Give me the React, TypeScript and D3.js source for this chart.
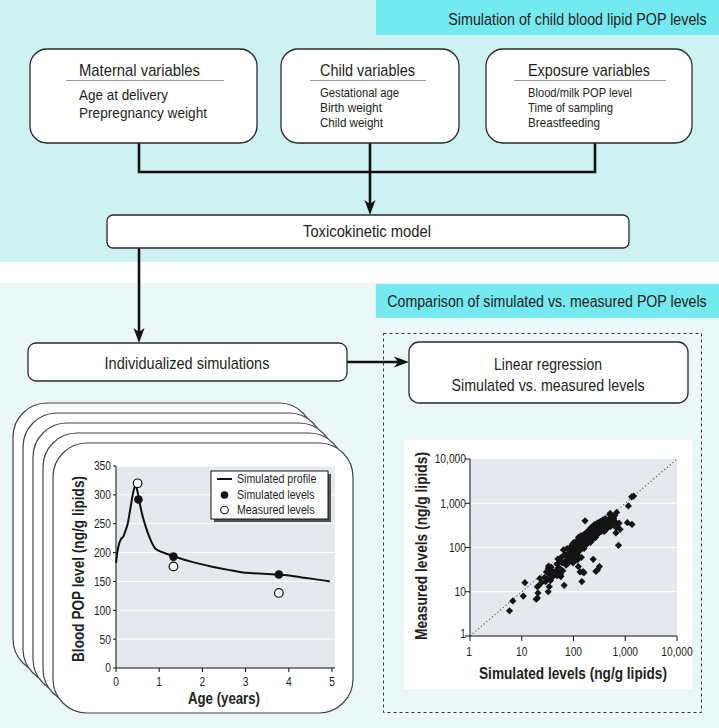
import React, { useEffect } from "react";
import * as d3 from "d3";

const W = 719;
const H = 728;
const FONT = "'Liberation Sans', Arial, sans-serif";
const SX = 0.82;

// ---------- flow-chart text ----------
const headerTop = "Simulation of child blood lipid POP levels";
const headerBottom = "Comparison of simulated vs. measured POP levels";
const boxTitles = ["Maternal variables", "Child variables", "Exposure variables"];
const maternalItems = ["Age at delivery", "Prepregnancy weight"];
const childItems = ["Gestational age", "Birth weight", "Child weight"];
const exposureItems = ["Blood/milk POP level", "Time of sampling", "Breastfeeding"];

// ---------- line chart data ----------
const profileAge = [0, 0.03, 0.07, 0.12, 0.17, 0.22, 0.27, 0.33, 0.4, 0.45, 0.5, 0.55, 0.62, 0.7, 0.8, 0.92, 1.1, 1.4, 1.8, 2.2, 2.6, 3.0, 3.5, 3.9, 4.3, 4.6, 4.95];
const profileLevel = [182, 200, 215, 224, 228, 238, 250, 275, 305, 316, 305, 285, 262, 242, 222, 206, 200, 192, 183, 176, 170, 165, 163, 161, 157, 154, 150];
const simulatedAge = [0.52, 1.33, 3.77];
const simulatedLevel = [292, 193, 162];
const measuredAge = [0.5, 1.33, 3.77];
const measuredLevel = [320, 176, 130];
const lineXTicks = [0, 1, 2, 3, 4, 5];
const lineYTicks = [0, 50, 100, 150, 200, 250, 300, 350];
const legendLabels = ["Simulated profile", "Simulated levels", "Measured levels"];

// ---------- scatter data (simulated, measured) ----------
const scatterSim = [
  5.8, 6.7, 10.7, 11.5, 19, 20, 20.6, 20, 22.4, 24, 21, 27.5, 32.5, 34, 36, 32.5, 37, 35, 30, 33, 38, 40, 31, 29,
  66, 55, 54, 58, 60, 62, 64, 68, 70, 72, 50, 52, 56, 46, 48, 75, 78, 80, 82,
  145, 150, 118, 125, 130, 110, 100, 105, 95, 98, 90, 92, 88, 102, 108, 112, 115, 120, 125, 128, 132, 135, 138, 140, 142, 145, 150, 155, 158, 160, 162, 165, 168, 170, 172, 175, 178, 180, 185, 188, 190, 195, 198, 200, 205, 210, 215, 218, 220, 225, 230, 235, 240, 245, 250, 255, 260, 265, 270, 278, 285, 290, 300, 310, 320, 330, 340, 350, 360, 370, 380, 390, 400, 410, 420, 430, 440, 450, 460, 475, 490, 500, 510, 520, 540, 560, 580, 600, 620, 640, 660, 680, 700, 740, 760, 795, 670,
  167, 240, 316, 290, 270, 155, 1100, 1350, 1150, 1330, 1450,
  85, 93, 96, 104, 106, 114, 117, 122, 126, 134, 136, 143, 148, 152, 157, 163, 170, 176, 183, 187, 192, 202, 208, 212, 222, 228, 238, 248, 258, 268, 275, 295, 305, 325, 345, 365, 385, 395, 415, 435,
  104, 124, 134, 159, 57, 53, 48, 52, 50, 46, 80
];
const scatterMeas = [
  3.7, 6.2, 8, 16, 6.8, 7.2, 9.4, 13, 20, 16, 13.5, 21, 10, 13, 18, 34, 36, 25, 28, 38, 30, 22, 20, 17,
  14, 26, 52, 60, 45, 30, 88, 70, 50, 40, 55, 35, 24, 30, 42, 95, 60, 45, 75,
  17, 28, 52, 80, 60, 70, 100, 85, 60, 45, 80, 110, 65, 130, 120, 95, 140, 110, 170, 130, 90, 150, 115, 185, 60, 105, 160, 125, 140, 95, 200, 150, 180, 120, 210, 160, 135, 190, 170, 230, 145, 200, 175, 250, 160, 215, 190, 280, 240, 170, 210, 300, 260, 190, 230, 330, 280, 210, 250, 300, 240, 360, 280, 320, 230, 390, 300, 260, 340, 420, 280, 350, 310, 450, 260, 380, 300, 330, 280, 420, 360, 550, 590, 300, 500, 420, 350, 450, 520, 380, 214, 620, 300, 112, 355, 257, 280,
  400, 54, 37, 31, 29, 28, 363, 333, 870, 1400, 1450,
  90, 75, 120, 65, 110, 80, 100, 95, 115, 105, 125, 135, 95, 118, 170, 130, 145, 115, 150, 125, 165, 140, 180, 130, 200, 150, 180, 160, 200, 170, 220, 200, 260, 270, 230, 290, 240, 230, 330, 290,
  52, 37, 28, 27, 22, 26, 23, 25, 24, 27, 52
];
const logTicks = [1, 10, 100, 1000, 10000];
const scatterXLabel = "Simulated levels (ng/g lipids)";
const scatterYLabel = "Measured levels (ng/g lipids)";

const TEXT = "#231f20";
const BOX_STROKE = "#2a2a2a";

// Text helper: either fitted to a measured width, or horizontally condensed.
function T({ x, y, size, anchor = "start", weight = "normal", w, sx = SX, rot = 0, children }: any) {
  if (w) {
    return (
      <text
        transform={`translate(${x},${y}) rotate(${rot})`}
        textAnchor={anchor}
        dominantBaseline="central"
        fontSize={size}
        fontWeight={weight}
        fill={TEXT}
        textLength={w}
        lengthAdjust="spacingAndGlyphs"
      >
        {children}
      </text>
    );
  }
  return (
    <text
      transform={`translate(${x},${y}) rotate(${rot}) scale(${sx},1)`}
      textAnchor={anchor}
      dominantBaseline="central"
      fontSize={size}
      fontWeight={weight}
      fill={TEXT}
    >
      {children}
    </text>
  );
}

function DownArrow({ x, y }: { x: number; y: number }) {
  return <path d={`M${x},${y} L${x - 5.5},${y - 15} L${x},${y - 11} L${x + 5.5},${y - 15} Z`} fill="#111" />;
}
function RightArrow({ x, y }: { x: number; y: number }) {
  return <path d={`M${x},${y} L${x - 15},${y - 5.5} L${x - 11},${y} L${x - 15},${y + 5.5} Z`} fill="#111" />;
}

function VarBox({ x, w, title, titleW, items, itemW, itemSize, divX1, divX2, textX }: any) {
  const y = 49, h = 94;
  return (
    <g>
      <rect x={x} y={y} width={w} height={h} rx={17} ry={17} fill="#fff" stroke={BOX_STROKE} strokeWidth={1.3} />
      <T x={textX} y={70} size={17} w={titleW}>{title}</T>
      <line x1={divX1} x2={divX2} y1={80.5} y2={80.5} stroke="#9a9a9a" strokeWidth={1} />
      {items.map((t: string, i: number) => (
        <T key={t} x={textX} y={itemSize > 14 ? 94.5 + i * 17.5 : 92 + i * 15} size={itemSize} w={itemW[i]}>{t}</T>
      ))}
    </g>
  );
}

function LineChart() {
  const x = d3.scaleLinear().domain([0, 5]).range([116, 332]);
  const y = d3.scaleLinear().domain([0, 350]).range([668, 466]);
  const line = d3.line<number>().x((d, i) => x(profileAge[i])).y((d) => y(d)).curve(d3.curveMonotoneX);
  const cards = [4, 3, 2, 1, 0];
  return (
    <g>
      {cards.map((k) => (
        <rect key={k} x={53 - k * 10} y={443 - k * 10} width={300} height={270} rx={34} ry={34} fill="#fff" stroke="#444" strokeWidth={1.2} />
      ))}
      <rect x={116} y={466} width={219} height={202} fill="#e5e9ee" />
      {lineYTicks.slice(1).map((t) => (
        <line key={t} x1={116} x2={335} y1={y(t)} y2={y(t)} stroke="#fff" strokeWidth={1} />
      ))}
      <line x1={116} x2={116} y1={466} y2={668} stroke="#111" strokeWidth={1} />
      <line x1={116} x2={335} y1={668} y2={668} stroke="#111" strokeWidth={1} />
      {lineYTicks.map((t) => (
        <g key={t}>
          <line x1={113} x2={116} y1={y(t)} y2={y(t)} stroke="#111" />
          <T x={111} y={y(t)} size={12.5} anchor="end">{t}</T>
        </g>
      ))}
      {lineXTicks.map((t) => (
        <g key={t}>
          <line x1={x(t)} x2={x(t)} y1={668} y2={672} stroke="#111" />
          <T x={x(t)} y={682} size={12.5} anchor="middle">{t}</T>
        </g>
      ))}
      <path d={line(profileLevel) || ""} fill="none" stroke="#111" strokeWidth={2} />
      {simulatedAge.map((a, i) => (
        <circle key={"s" + i} cx={x(a)} cy={y(simulatedLevel[i])} r={4.3} fill="#111" />
      ))}
      {measuredAge.map((a, i) => (
        <circle key={"m" + i} cx={x(a)} cy={y(measuredLevel[i])} r={4.3} fill="#fff" stroke="#111" strokeWidth={1.2} />
      ))}
      <T x={224} y={698} size={16} weight="bold" anchor="middle" w={72}>Age (years)</T>
      <T x={78} y={569} size={16} weight="bold" anchor="middle" w={186} rot={-90}>Blood POP level (ng/g lipids)</T>
      {/* legend */}
      <rect x={214} y={474} width={117} height={48} fill="#555" />
      <rect x={211} y={471} width={117} height={48} fill="#fff" stroke="#111" strokeWidth={1} />
      <line x1={217} x2={232} y1={479} y2={479} stroke="#111" strokeWidth={2} />
      <circle cx={224.5} cy={495} r={3.8} fill="#111" />
      <circle cx={224.5} cy={510} r={3.8} fill="#fff" stroke="#111" strokeWidth={1.1} />
      {legendLabels.map((l, i) => (
        <T key={l} x={237} y={479 + i * 15.5} size={13}>{l}</T>
      ))}
    </g>
  );
}

function Scatter() {
  const x = d3.scaleLog().domain([1, 10000]).range([470, 677]);
  const y = d3.scaleLog().domain([1, 10000]).range([636, 459]);
  const fmt = d3.format(",");
  const diamond = d3.symbol().type(d3.symbolSquare).size(26)();
  return (
    <g>
      <rect x={404} y={440} width={288} height={249} fill="#fff" />
      <rect x={470} y={459} width={207} height={177} fill="#e5e9ee" />
      {logTicks.slice(1, 4).map((t) => (
        <line key={t} x1={470} x2={677} y1={y(t)} y2={y(t)} stroke="#fff" strokeWidth={1} />
      ))}
      <line x1={x(1)} y1={y(1)} x2={x(10000)} y2={y(10000)} stroke="#555" strokeWidth={1.1} strokeDasharray="1.2,2.4" />
      {scatterSim.map((s, i) => (
        <path key={i} d={diamond || ""} transform={`translate(${x(s)},${y(scatterMeas[i])}) rotate(45)`} fill="#141414" />
      ))}
      <line x1={470} x2={470} y1={459} y2={636} stroke="#111" strokeWidth={1} />
      <line x1={470} x2={677} y1={636} y2={636} stroke="#111" strokeWidth={1} />
      {logTicks.map((t) => (
        <g key={t}>
          <line x1={x(t)} x2={x(t)} y1={636} y2={641} stroke="#111" />
          <T x={t === 1 ? x(t) - 1 : x(t)} y={652} size={12.5} anchor="middle">{fmt(t)}</T>
          <line x1={465} x2={470} y1={y(t)} y2={y(t)} stroke="#111" />
          <T x={466} y={y(t) + (t === 1 ? -2 : 0)} size={12.5} anchor="end">{fmt(t)}</T>
        </g>
      ))}
      <T x={573} y={673} size={17} weight="bold" anchor="middle" w={188}>{scatterXLabel}</T>
      <T x={421} y={546} size={17} weight="bold" anchor="middle" w={188} rot={-90}>{scatterYLabel}</T>
    </g>
  );
}

export default function App() {
  useEffect(() => {
    document.body.style.margin = "0";
  }, []);
  return (
    <svg width={W} height={H} viewBox={`0 0 ${W} ${H}`} style={{ display: "block", position: "absolute", left: 0, top: 0 }} fontFamily={FONT}>
      {/* backgrounds */}
      <rect x={0} y={0} width={W} height={262} fill="#cdf2f1" />
      <rect x={0} y={262} width={W} height={21} fill="#ffffff" />
      <rect x={0} y={283} width={W} height={H - 283} fill="#ebf8f8" />
      <rect x={376} y={0} width={W - 376} height={35} fill="#74e9ef" />
      <rect x={376} y={284} width={W - 376} height={34} fill="#74e9ef" />
      <T x={577.5} y={19} size={17} anchor="middle" sx={0.84}>{headerTop}</T>
      <T x={547} y={301} size={17} anchor="middle" sx={0.834}>{headerBottom}</T>

      {/* connectors */}
      <path d="M139,143 V172 H595 V143" fill="none" stroke="#111" strokeWidth={2.6} />
      <line x1={370} x2={370} y1={143} y2={204} stroke="#111" strokeWidth={2.6} />
      <DownArrow x={370} y={215} />
      <line x1={139} x2={139} y1={248} y2={332} stroke="#111" strokeWidth={2.6} />
      <DownArrow x={139} y={343} />
      <line x1={347} x2={398} y1={362} y2={362} stroke="#111" strokeWidth={2.6} />
      <RightArrow x={409} y={362} />

      {/* variable boxes */}
      <VarBox x={30} w={227} title={boxTitles[0]} titleW={121} items={maternalItems} itemW={[89, 128]} itemSize={15} divX1={66} divX2={224} textX={79} />
      <VarBox x={281} w={178} title={boxTitles[1]} titleW={95} items={childItems} itemW={[79, 62, 63]} itemSize={13} divX1={310} divX2={426} textX={320} />
      <VarBox x={486} w={206} title={boxTitles[2]} titleW={122} items={exposureItems} itemW={[104, 85, 72]} itemSize={13} divX1={514} divX2={666} textX={528} />

      {/* toxicokinetic */}
      <rect x={107} y={215} width={522} height={33} rx={6} ry={6} fill="#fff" stroke={BOX_STROKE} strokeWidth={1.3} />
      <T x={367} y={231.5} size={17} anchor="middle" w={128}>Toxicokinetic model</T>

      {/* individualized */}
      <rect x={28} y={343} width={319} height={38} rx={8} ry={8} fill="#fff" stroke={BOX_STROKE} strokeWidth={1.3} />
      <T x={187} y={363} size={17} anchor="middle" w={165}>Individualized simulations</T>

      {/* dashed comparison box */}
      <rect x={383.5} y={333.5} width={318} height={379} fill="none" stroke="#333" strokeWidth={1} strokeDasharray="3,3" />
      <rect x={409} y={342} width={279} height={61} rx={10} ry={10} fill="#fff" stroke={BOX_STROKE} strokeWidth={1.3} />
      <T x={548} y={364} size={17} anchor="middle" w={108}>Linear regression</T>
      <T x={548} y={385} size={17} anchor="middle" w={193}>Simulated vs. measured levels</T>

      <LineChart />
      <Scatter />
    </svg>
  );
}
